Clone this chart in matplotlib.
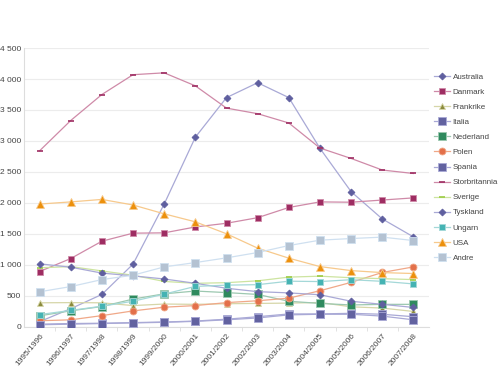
import matplotlib
matplotlib.use("Agg")
import matplotlib.pyplot as plt
import matplotlib.ticker as ticker

plt.rcParams["font.family"] = ["Liberation Sans", "DejaVu Sans"]

seasons = ["1995/1996", "1996/1997", "1997/1998", "1998/1999", "1999/2000",
           "2000/2001", "2001/2002", "2002/2003", "2003/2004", "2004/2005",
           "2005/2006", "2006/2007", "2007/2008"]

australia = [80, 290, 520, 1010, 1980, 3060, 3700, 3940, 3700, 2880, 2180, 1740, 1450]
danmark = [890, 1100, 1380, 1510, 1515, 1610, 1670, 1760, 1925, 2015, 2010, 2045, 2080]
frankrike = [385, 388, 385, 340, 365, 360, 370, 375, 380, 390, 320, 300, 245]
italia = [40, 50, 55, 65, 75, 90, 120, 160, 205, 205, 215, 200, 160]
nederland = [175, 255, 325, 445, 530, 575, 550, 520, 410, 375, 350, 360, 360]
polen = [95, 110, 178, 254, 314, 340, 388, 418, 460, 580, 715, 875, 965]
spania = [30, 40, 50, 60, 70, 85, 110, 140, 190, 200, 200, 170, 110]
storbritannia = [2840, 3330, 3750, 4070, 4100, 3890, 3530, 3440, 3290, 2885, 2717, 2530, 2474]
sverige = [950, 970, 900, 830, 730, 700, 710, 740, 800, 815, 790, 775, 760]
tyskland = [1015, 960, 865, 820, 770, 700, 620, 565, 545, 515, 410, 360, 310]
ungarn = [195, 262, 330, 410, 525, 650, 670, 678, 734, 728, 758, 732, 690]
usa = [1980, 2015, 2055, 1965, 1822, 1693, 1500, 1268, 1106, 970, 905, 873, 858]
andre = [563, 647, 760, 831, 965, 1035, 1111, 1197, 1310, 1397, 1423, 1446, 1391]

# name, values, marker, marker colour, line colour, marker size
SERIES = [
    ("Australia", australia, "D", "#5f5f9f", "#a9a9d6", 3.5),
    ("Danmark", danmark, "s", "#9e2d62", "#cf8aa8", 4.5),
    ("Frankrike", frankrike, "^", "#8a8a3c", "#d6d6a8", 5),
    ("Italia", italia, "s", "#6262a0", "#a9a9d6", 6),
    ("Nederland", nederland, "s", "#2f8a5e", "#9cc8b0", 5.5),
    ("Polen", polen, "o", "#e3704a", "#f0a888", 5),
    ("Spania", spania, "s", "#6262a0", "#a9a9d6", 5.5),
    ("Storbritannia", storbritannia, "_", "#9e2d62", "#cf8aa8", 4),
    ("Sverige", sverige, "_", "#9ccc44", "#cde4a0", 4),
    ("Tyskland", tyskland, "D", "#5f5f9f", "#a9a9d6", 3.5),
    ("Ungarn", ungarn, "s", "#45b3b3", "#a4d8d8", 5),
    ("USA", usa, "^", "#ec900c", "#f7c98c", 6),
    ("Andre", andre, "s", "#b4c2d2", "#cfe0f0", 6),
]

fig = plt.figure(figsize=(5.0, 3.67), dpi=100)
ax = fig.add_axes([0.048, 0.11, 0.81, 0.759])

x = list(range(len(seasons)))
for name, vals, mk, mcol, lcol, ms in SERIES:
    ax.plot(x, vals, color=lcol, linewidth=0.9, marker=mk, markersize=ms,
            markerfacecolor=mcol, markeredgecolor=mcol if mk in ("_", "D") else lcol,
            markeredgewidth=1.2 if mk == "_" else 0.6, label=name, zorder=3)

ax.set_xlim(-0.5, len(seasons) - 0.5)
ax.set_ylim(0, 4500)
ax.yaxis.set_major_locator(ticker.MultipleLocator(500))
ax.yaxis.set_major_formatter(
    ticker.FuncFormatter(lambda v, p: f"{int(v):,}".replace(",", " ")))

ax.set_xticks(x)
ax.set_xticklabels(seasons, rotation=50, ha="right", rotation_mode="anchor")
ax.set_xticks([i + 0.5 for i in x[:-1]], minor=True)

ax.grid(axis="y", color="#ececec", linewidth=0.8, zorder=0)
ax.set_axisbelow(True)
for side in ("top", "right"):
    ax.spines[side].set_visible(False)
for side in ("left", "bottom"):
    ax.spines[side].set_color("#dddddd")
    ax.spines[side].set_linewidth(0.8)

ax.tick_params(axis="y", length=0, labelsize=6, colors="#444444", pad=2)
ax.tick_params(axis="x", which="major", length=0, labelsize=6,
               colors="#444444", pad=4)
ax.tick_params(axis="x", which="minor", length=3, color="#dddddd")

leg = fig.legend(loc="upper left", bbox_to_anchor=(0.868, 0.80), frameon=False,
                 fontsize=5.8, handlelength=2.0, handletextpad=0.3,
                 labelspacing=0.92, borderaxespad=0.0, borderpad=0.0)
for t in leg.get_texts():
    t.set_color("#444444")

fig.savefig("out.png", dpi=100)
